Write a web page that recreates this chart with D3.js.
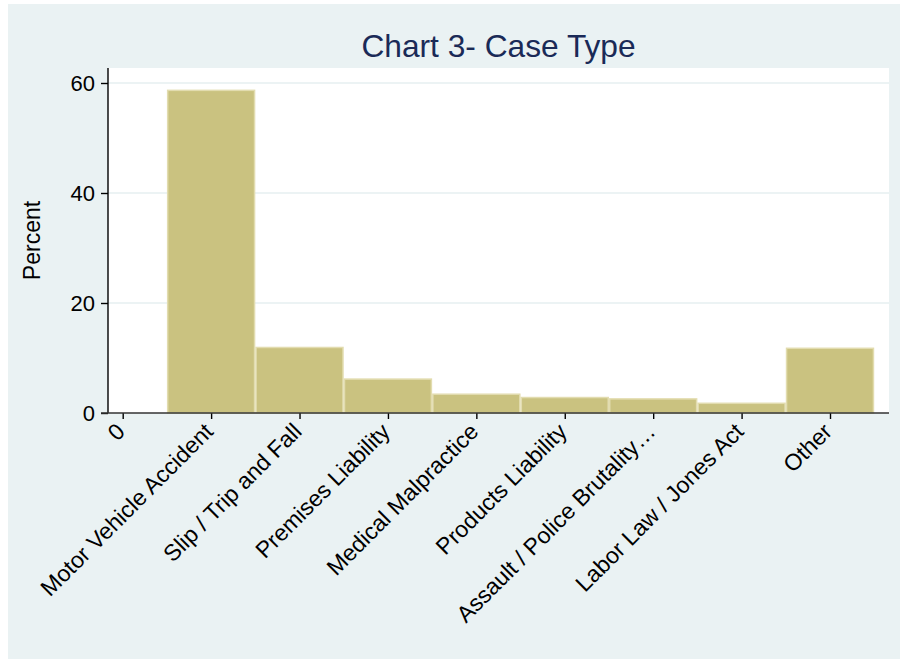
<!DOCTYPE html>
<html><head><meta charset="utf-8">
<script src="https://cdn.jsdelivr.net/npm/d3@7"></script>
<style>
html,body{margin:0;padding:0;background:#fff;}
svg{display:block;font-family:"Liberation Sans",Arial,Helvetica,sans-serif;}
</style></head>
<body>
<svg id="chart" width="900" height="659"></svg>
<script>
const categories = ["Motor Vehicle Accident","Slip / Trip and Fall","Premises Liability","Medical Malpractice","Products Liability","Assault / Police Brutality…","Labor Law / Jones Act","Other"];
const categoryCodes = [1,2,3,4,5,6,7,8];
const percents = [58.8, 12.05, 6.3, 3.55, 2.95, 2.7, 1.9, 11.9];
const yTicks = [0, 20, 40, 60];
const xTickValues = [0,1,2,3,4,5,6,7,8];
const xTickLabels = ["0"].concat(categories);
const titleText = "Chart 3- Case Type";
const yTitle = "Percent";

const svg = d3.select("#chart");
const W = 900, H = 659;
svg.append("rect").attr("x",8).attr("y",4).attr("width",W-8).attr("height",H-4).attr("fill","#eaf2f3");

const plot = {left:108, right:889, top:68, bottom:413};
const x = d3.scaleLinear().domain([0,8]).range([122.7, 830]);
const y = d3.scaleLinear().domain([0,60]).range([413, 83]);

svg.append("rect").attr("x",plot.left).attr("y",plot.top)
  .attr("width",plot.right-plot.left).attr("height",plot.bottom-plot.top).attr("fill","#ffffff");

// gridlines
svg.append("g").selectAll("line").data(yTicks.filter(d=>d>0)).join("line")
  .attr("x1",plot.left).attr("x2",plot.right)
  .attr("y1",d=>y(d)).attr("y2",d=>y(d))
  .attr("stroke","#e6eff1").attr("stroke-width",1.6);

// bars
const data = categoryCodes.map((c,i)=>({c, v:percents[i]}));
svg.append("g").selectAll("rect").data(data).join("rect")
  .attr("x",d=>x(d.c-0.5)+0.75)
  .attr("width",d=>x(d.c+0.5)-x(d.c-0.5)-1.5)
  .attr("y",d=>y(d.v)+0.75)
  .attr("height",d=>y(0)-y(d.v)-0.75)
  .attr("fill","#cac280")
  .attr("stroke","#e2dcaf").attr("stroke-width",1.5);

// y axis
const yAxis = d3.axisLeft(y).tickValues(yTicks).tickSize(7).tickPadding(6).tickFormat(d3.format("d"));
const gy = svg.append("g").attr("transform",`translate(${plot.left},0)`).call(yAxis);
gy.select(".domain").remove();
gy.append("line").attr("x1",0).attr("x2",0).attr("y1",plot.top).attr("y2",plot.bottom).attr("stroke","#000").attr("stroke-width",1.4);
gy.selectAll(".tick line").attr("stroke","#000").attr("stroke-width",1.4);
gy.selectAll(".tick text").attr("font-size",22).attr("fill","#000").attr("font-family","Liberation Sans, Arial, sans-serif");

// x axis
const xAxis = d3.axisBottom(x).tickValues(xTickValues).tickSize(6).tickFormat((d,i)=>xTickLabels[i]);
const gx = svg.append("g").attr("transform",`translate(0,${plot.bottom})`).call(xAxis);
gx.select(".domain").remove();
gx.append("line").attr("x1",plot.left-7).attr("x2",plot.right).attr("y1",0).attr("y2",0).attr("stroke","#333").attr("stroke-width",1.4);
gx.selectAll(".tick line").attr("stroke","#000").attr("stroke-width",1.4);
gx.selectAll(".tick text")
  .attr("font-size",23).attr("fill","#000").attr("font-family","Liberation Sans, Arial, sans-serif")
  .attr("text-anchor","end").attr("dy",null).attr("y",null)
  .attr("transform","translate(3,20) rotate(-45)");

// title
svg.append("text").attr("x",(plot.left+plot.right)/2).attr("y",56.5)
  .attr("text-anchor","middle").attr("font-size",31.7).attr("fill","#1a2a57").text(titleText);

// y title
svg.append("text").attr("transform","translate(40,240.5) rotate(-90)")
  .attr("text-anchor","middle").attr("font-size",23).attr("fill","#000").text(yTitle);
</script>
</body></html>
